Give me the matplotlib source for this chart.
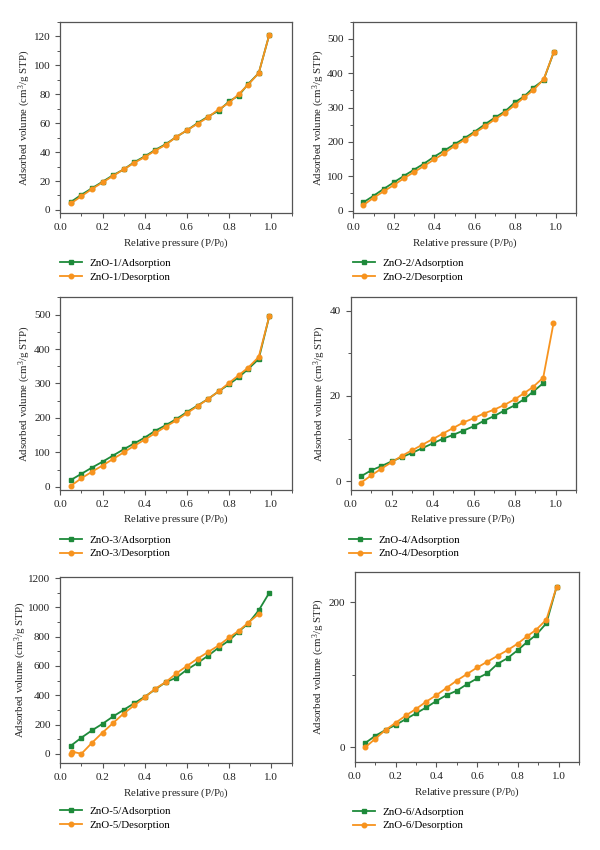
import matplotlib
matplotlib.use("Agg")
import matplotlib.pyplot as plt
from matplotlib.ticker import MultipleLocator

plt.rcParams['font.family'] = ['Liberation Serif', 'DejaVu Serif']
plt.rcParams['mathtext.fontset'] = 'custom'
plt.rcParams['mathtext.rm'] = 'Liberation Serif'
plt.rcParams['mathtext.it'] = 'Liberation Serif:italic'

# ---------------- data ----------------
p_ads = [0.05, 0.10, 0.15, 0.20, 0.25, 0.30, 0.35, 0.40, 0.45, 0.50,
         0.55, 0.60, 0.65, 0.70, 0.75, 0.80, 0.845, 0.89, 0.94, 0.99]
p_des = p_ads[::-1]

zno1_ads = [5.5, 10.5, 15, 19.5, 24, 28, 33, 37, 41.5, 45.5,
            50.5, 55, 60, 64.5, 68.5, 75, 79, 87, 94.5, 121]
zno1_des = [121, 94.5, 86.5, 80, 74, 69.5, 64, 59.5, 55, 50.5,
            45, 41, 36.5, 32.5, 28, 23.5, 19, 14.5, 9.5, 4.5]

zno2_ads = [24, 43, 63, 82, 101, 119, 137, 157, 175, 193,
            211, 230, 251, 271, 289, 316, 333, 358, 380, 461]
zno2_des = [461, 382, 351, 330, 308, 285, 266, 245, 226, 206,
            188, 167, 149, 130, 112, 94, 74, 56, 37, 16]

zno3_ads = [20, 38, 56, 73, 91, 109, 126, 143, 163, 179,
            197, 217, 236, 255, 277, 298, 318, 342, 371, 495]
zno3_des = [495, 377, 346, 324, 302, 277, 255, 234, 214, 193,
            175, 156, 137, 119, 100, 81, 62, 44, 25, 3]

p4_ads = p_ads[:-1]
zno4_ads = [1.2, 2.6, 3.6, 4.7, 5.7, 6.7, 7.8, 8.9, 10.0, 10.9,
            11.9, 12.9, 14.2, 15.3, 16.6, 17.8, 19.2, 21.0, 23.0]
zno4_des = [37.0, 24.3, 22.1, 20.6, 19.2, 17.9, 16.8, 15.9, 14.8, 13.8,
            12.5, 11.2, 9.9, 8.6, 7.3, 6.0, 4.5, 3.0, 1.4, -0.3]

zno5_ads = [55, 110, 160, 205, 255, 300, 345, 390, 440, 490,
            520, 575, 620, 670, 725, 775, 835, 890, 980, 1100]
p5_des = [0.94, 0.89, 0.845, 0.80, 0.75, 0.70, 0.65, 0.60, 0.55, 0.50,
          0.45, 0.40, 0.35, 0.30, 0.25, 0.20, 0.15, 0.10, 0.055, 0.05]
zno5_des = [955, 895, 840, 795, 740, 695, 650, 600, 550, 490,
            445, 385, 330, 275, 210, 145, 75, 0, 15, 0]

zno6_ads = [6, 16, 24, 31, 39, 47, 55, 64, 72, 78,
            87, 95, 102, 115, 123, 134, 145, 155, 171, 221]
zno6_des = [221, 176, 162, 153, 143, 134, 126, 118, 110, 101,
            92, 82, 72, 63, 53, 44, 34, 24, 12, 0]

names = ["ZnO-1", "ZnO-2", "ZnO-3", "ZnO-4", "ZnO-5", "ZnO-6"]
ads_x = [p_ads, p_ads, p_ads, p4_ads, p_ads, p_ads]
ads_y = [zno1_ads, zno2_ads, zno3_ads, zno4_ads, zno5_ads, zno6_ads]
des_x = [p_des, p_des, p_des, p_des, p5_des, p_des]
des_y = [zno1_des, zno2_des, zno3_des, zno4_des, zno5_des, zno6_des]

ylims = [(-2.3, 130), (-8, 550), (-9, 550), (-2, 43.1), (-65, 1210), (-20.5, 241)]
ymajor = [20, 100, 100, 20, 200, 200]
yminor = [10, 50, 50, 10, 100, 100]

# ---------------- layout (pixel boxes: left, top, right, bottom) ----------------
W, H = 600, 850
boxes = [(60.3, 21.7, 292.5, 213.3), (353.3, 21.7, 576, 213.3),
         (60.3, 297.3, 292.5, 490), (350.7, 297.3, 576, 490),
         (60.3, 576.7, 292.5, 763.3), (355, 572.3, 579, 762.3)]
legpos = [(60, 258), (353, 258), (60, 535), (349, 535), (60, 806), (353, 807)]
ylabel_x = [33, 327, 33, 328, 29, 327]   # right edge of rotated y-label, px

green = "#1e8a3a"
orange = "#f7931e"
spine_c = "#555555"

fig = plt.figure(figsize=(W / 100, H / 100), dpi=100)

for i in range(6):
    l, t, r, b = boxes[i]
    ax = fig.add_axes([l / W, 1 - b / H, (r - l) / W, (b - t) / H])
    ax.plot(ads_x[i], ads_y[i], color=green, marker='s', markersize=3.0,
            linewidth=1.3, label=f"{names[i]}/Adsorption", zorder=3)
    ax.plot(des_x[i], des_y[i], color=orange, marker='o', markersize=3.3,
            linewidth=1.3, label=f"{names[i]}/Desorption", zorder=4)
    ax.set_xlim(0, 1.1)
    ax.set_ylim(*ylims[i])
    ax.xaxis.set_major_locator(MultipleLocator(0.2))
    ax.xaxis.set_minor_locator(MultipleLocator(0.1))
    ax.yaxis.set_major_locator(MultipleLocator(ymajor[i]))
    ax.yaxis.set_minor_locator(MultipleLocator(yminor[i]))
    ax.xaxis.set_major_formatter(matplotlib.ticker.FormatStrFormatter('%.1f'))
    for s in ax.spines.values():
        s.set_color(spine_c)
        s.set_linewidth(0.9)
    ax.tick_params(which='both', direction='out', colors=spine_c,
                   labelcolor='#222222', labelsize=8, top=False, right=False)
    ax.tick_params(which='major', length=3.5, width=0.8)
    ax.tick_params(which='minor', length=2, width=0.7)
    ax.set_xlabel("Relative pressure (P/P$_0$)", fontsize=7.8, color='#222222', labelpad=3)
    ax.set_ylabel("Adsorbed volume (cm$^3$/g STP)", fontsize=7.8, color='#222222')
    ax.yaxis.set_label_coords((ylabel_x[i] - l) / (r - l), 0.5)

    lx, ly = legpos[i]
    ax.legend(loc='upper left',
              bbox_to_anchor=(lx / W, 1 - ly / H), bbox_transform=fig.transFigure,
              frameon=False, fontsize=7.8, borderpad=0, borderaxespad=0,
              handlelength=2.0, handletextpad=0.7, labelspacing=0.4,
              markerscale=1.0)

fig.savefig("out.png", dpi=100)
